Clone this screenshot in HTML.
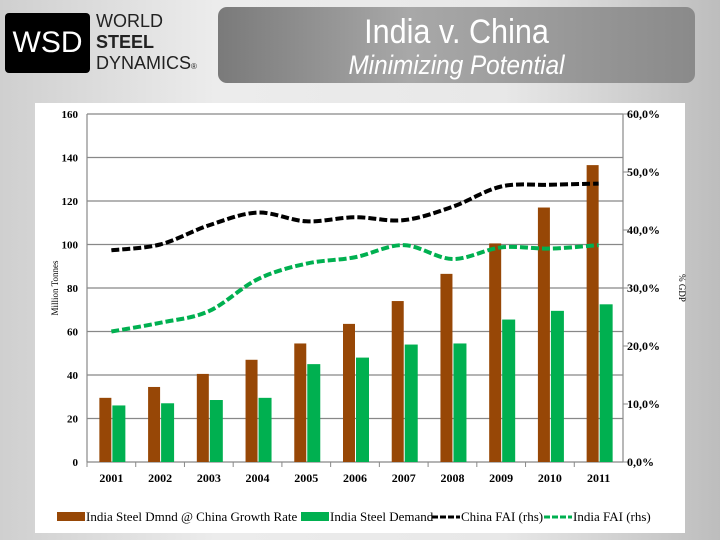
<!DOCTYPE html>
<html><head><meta charset="utf-8"><style>
body{margin:0;width:720px;height:540px;overflow:hidden;background:linear-gradient(90deg,#cfcfcf,#ececec 30%,#e8e8e8 70%,#bdbdbd);font-family:"Liberation Sans",sans-serif;position:relative}
.logo{position:absolute;left:5px;top:13px;width:85px;height:60px;background:#000;border-radius:4px;color:#fff;font-size:30px;line-height:60px;text-align:center}
.brand{position:absolute;left:96px;top:11px;font-size:18px;line-height:21px;color:#222}
.banner{position:absolute;left:218px;top:7px;width:477px;height:76px;border-radius:9px;background:linear-gradient(90deg,#7a7a7a,#a8a8a8 40%,#9a9a9a 70%,#8a8a8a);color:#fff;text-align:center}
.panel{position:absolute;left:35px;top:103px;width:650px;height:430px;background:#fff}
</style></head><body>
<div class="logo">WSD</div>
<div class="brand">WORLD<br><b>STEEL</b><br>DYNAMICS<span style="font-size:8px">®</span></div>
<div class="banner">
<div style="font-size:34px;margin-top:6px;transform:scaleX(0.9)">India v. China</div>
<div style="font-size:27px;font-style:italic;margin-top:-2px;transform:scaleX(0.9)">Minimizing Potential</div></div>
<div class="panel"></div>
<svg id="c" width="720" height="540" style="position:absolute;left:0;top:0" font-family="Liberation Serif,serif"></svg>
<script>
const categories=["2001","2002","2003","2004","2005","2006","2007","2008","2009","2010","2011"];
const brownVals=[29.5,34.5,40.5,47,54.5,63.5,74,86.5,100.5,117,136.5];
const greenVals=[26,27,28.5,29.5,45,48,54,54.5,65.5,69.5,72.5];
const chinaFAI=[36.5,37.5,40.8,43,41.5,42.2,41.7,44,47.5,47.8,48];
const indiaFAI=[22.5,24,26,31.5,34.2,35.3,37.4,35,37,36.8,37.4];
const leftTicks=[0,20,40,60,80,100,120,140,160];
const rightTicks=[0,10,20,30,40,50,60];
const L=87,R=623,T=114,B=462,ns="http://www.w3.org/2000/svg",svg=document.getElementById('c');
const yL=v=>B-(v/160)*(B-T), yR=v=>B-(v/60)*(B-T);
const bw=(R-L)/categories.length, cx=i=>L+bw*(i+0.5);
function mk(t,a,txt){const e=document.createElementNS(ns,t);for(const k in a)e.setAttribute(k,a[k]);if(txt!=null)e.textContent=txt;svg.appendChild(e);return e;}
leftTicks.forEach(v=>{
 if(v>0){const g=mk('line',{x1:L,x2:R,y1:yL(v),y2:yL(v),stroke:'#888','stroke-width':1.2});}
 const t=mk('text',{x:L-9,y:yL(v)+4,'text-anchor':'end','font-size':11,'font-weight':'bold'},v);
 
});
rightTicks.forEach(v=>{
 mk('line',{x1:R,x2:R+5,y1:yR(v),y2:yR(v),stroke:'#888'});
 const t=mk('text',{x:R+4,y:yR(v)+4,'font-size':12,'font-weight':'bold'},v.toFixed(1).replace('.',',')+'%');
 
});
mk('line',{x1:L,x2:L,y1:T,y2:B,stroke:'#888','stroke-width':1.2});
mk('line',{x1:R,x2:R,y1:T,y2:B,stroke:'#888','stroke-width':1.2});
mk('line',{x1:L,x2:R,y1:B,y2:B,stroke:'#888','stroke-width':1.2});
categories.forEach((c,i)=>{
 mk('line',{x1:L+bw*i,x2:L+bw*i,y1:B,y2:B+5,stroke:'#888'});
 const b=mk('rect',{x:cx(i)-12,y:yL(brownVals[i]),width:12,height:B-yL(brownVals[i]),fill:'#974706'});
 
 const g=mk('rect',{x:cx(i)+1,y:yL(greenVals[i]),width:13,height:B-yL(greenVals[i]),fill:'#00b050'});
 
 const t=mk('text',{x:cx(i),y:482,'text-anchor':'middle','font-size':12,'font-weight':'bold'},c);
 
});
function smooth(vals){const p=vals.map((v,i)=>[cx(i),yR(v)]);let d='M'+p[0];for(let i=0;i<p.length-1;i++){const p0=p[i-1]||p[i],p1=p[i],p2=p[i+1],p3=p[i+2]||p2;d+=' C'+(p1[0]+(p2[0]-p0[0])/6)+','+(p1[1]+(p2[1]-p0[1])/6)+' '+(p2[0]-(p3[0]-p1[0])/6)+','+(p2[1]-(p3[1]-p1[1])/6)+' '+p2;}return d;}
const lc=mk('path',{d:smooth(chinaFAI),fill:'none',stroke:'#000','stroke-width':4,'stroke-dasharray':'8 3'});

const li=mk('path',{d:smooth(indiaFAI),fill:'none',stroke:'#00b050','stroke-width':4,'stroke-dasharray':'8 3'});

const yt=mk('text',{transform:'translate(58,288) rotate(-90)','text-anchor':'middle','font-size':9},'Million Tonnes');

const yt2=mk('text',{transform:'translate(679,288) rotate(90)','text-anchor':'middle','font-size':9},'% GDP');

const leg=[['rect','#974706',57,'India Steel Dmnd @ China Growth Rate'],['rect','#00b050',301,'India Steel Demand'],['line','#000',432,'China FAI (rhs)'],['line','#00b050',544,'India FAI (rhs)']];
leg.forEach(([k,col,x,txt])=>{
 if(k==='rect')mk('rect',{x:x,y:512,width:28,height:9,fill:col});
 else mk('line',{x1:x,x2:x+28,y1:517,y2:517,stroke:col,'stroke-width':3,'stroke-dasharray':'6 2'});
 const t=mk('text',{x:x+29,y:521,'font-size':13},txt);
 
});
</script>
</body></html>
